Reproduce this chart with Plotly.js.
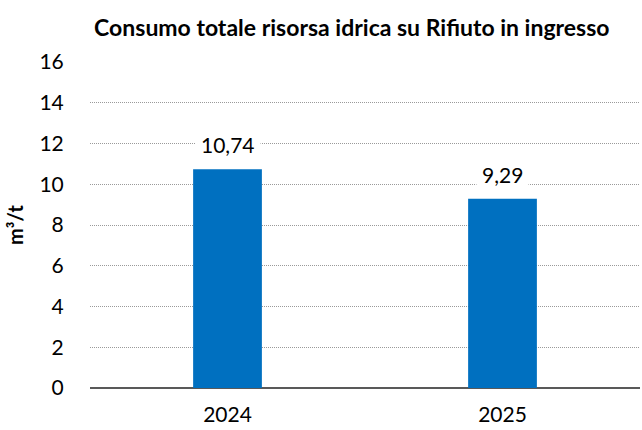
<!DOCTYPE html>
<html><head><meta charset="utf-8">
<script src="https://cdn.plot.ly/plotly-3.0.1.min.js"></script>
<style>html,body{margin:0;padding:0;background:#fff}#chart{width:642px;height:430px}</style>
</head><body><div id="chart"></div>
<script>
const categories = ["2024", "2025"];
const values = [10.74, 9.29];
const valueLabels = ["10,74", "9,29"];
const yTicks = [0, 2, 4, 6, 8, 10, 12, 14, 16];

const font = "Lato, 'Open Sans', sans-serif";
const trace = {
  type: "bar", x: categories.map((c, i) => i), y: values,
  marker: {color: "#0070C0"}, width: 0.25, hoverinfo: "skip"
};
const annotations = categories.map((c, i) => ({
  x: i, y: values[i], text: valueLabels[i], showarrow: false,
  yanchor: "bottom", yshift: 6, bgcolor: "#ffffff", borderpad: 5,
  font: {family: font, size: 21, color: "#000"}
}));
const layout = {
  width: 642, height: 430,
  margin: {l: 90, r: 2, t: 62, b: 42},
  paper_bgcolor: "#fff", plot_bgcolor: "#fff",
  title: {text: "<b>Consumo totale risorsa idrica su Rifiuto in ingresso</b>",
    font: {family: font, size: 23, color: "#000"}, x: 0.548, xanchor: "center", y: 0.935, yanchor: "middle"},
  xaxis: {range: [-0.5, 1.5], tickvals: categories.map((c, i) => i), ticktext: categories,
    showgrid: false, ticks: "outside", ticklen: 8, tickcolor: "rgba(0,0,0,0)",
    tickfont: {family: font, size: 21, color: "#000"}, showline: false, zeroline: false},
  yaxis: {range: [0, 16], tickvals: yTicks, ticktext: yTicks.map(String),
    showgrid: true, gridcolor: "#9a9a9a", griddash: "1px,1px", gridwidth: 1,
    zeroline: true, zerolinecolor: "#595959", zerolinewidth: 1.3,
    ticks: "outside", ticklen: 21, tickcolor: "rgba(0,0,0,0)",
    tickfont: {family: font, size: 21, color: "#000"},
    title: {text: "<b>m³/t</b>", font: {family: font, size: 20, color: "#000"}, standoff: 10}},
  annotations: annotations,
  showlegend: false
};
Plotly.newPlot("chart", [trace], layout, {displayModeBar: false, staticPlot: true});
</script></body></html>
